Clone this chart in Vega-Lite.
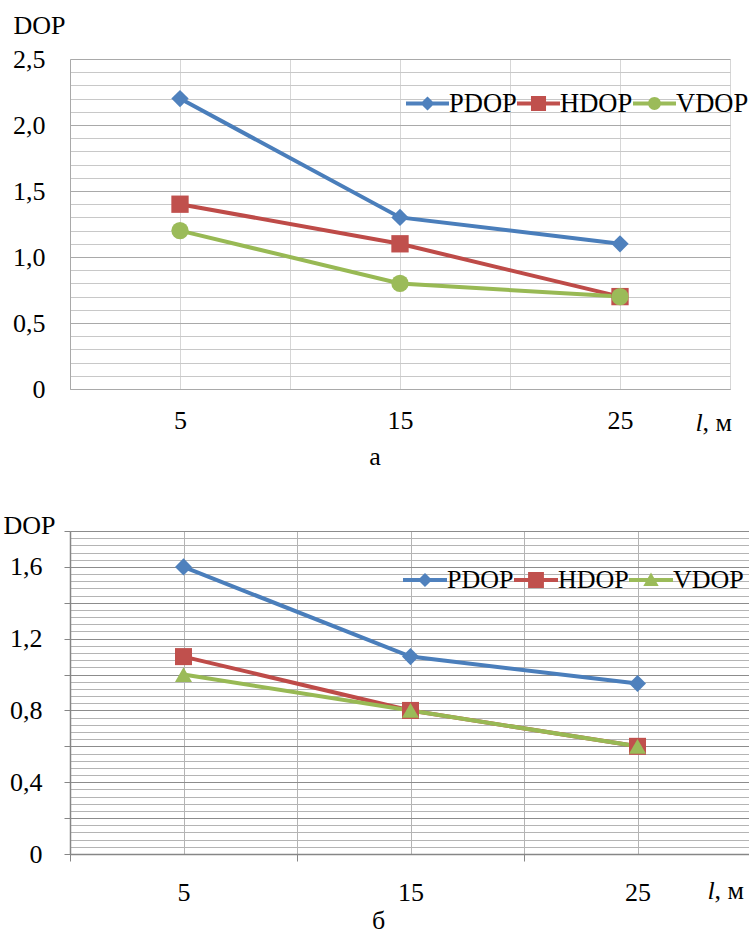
{
  "$schema": "https://vega.github.io/schema/vega-lite/v6.json",
  "padding": {"left": 3, "top": 12, "right": 0, "bottom": 0},
  "autosize": {"type": "pad"},
  "background": "white",
  "spacing": 142,
  "bounds": "flush",
  "config": {
    "view": {"stroke": null},
    "font": "'Liberation Serif', 'Times New Roman', 'DejaVu Serif', serif",
    "axis": {"labelFont": "'Liberation Serif', 'Times New Roman', 'DejaVu Serif', serif", "labelFontSize": 26, "labelColor": "black", "titleFont": "'Liberation Serif', 'Times New Roman', 'DejaVu Serif', serif", "titleFontSize": 26, "titleFontWeight": "normal", "titleColor": "black", "labelOverlap": false, "labelFlush": false},
    "legend": {"labelFont": "'Liberation Serif', 'Times New Roman', 'DejaVu Serif', serif", "labelFontSize": 26, "labelColor": "black"},
    "title": {"font": "'Liberation Serif', 'Times New Roman', 'DejaVu Serif', serif", "fontSize": 26, "fontWeight": "normal", "color": "black"}
  },
  "datasets": {
    "a": [
      {"l": 5, "series": "PDOP", "dop": 2.2},
      {"l": 15, "series": "PDOP", "dop": 1.3},
      {"l": 25, "series": "PDOP", "dop": 1.1},
      {"l": 5, "series": "HDOP", "dop": 1.4},
      {"l": 15, "series": "HDOP", "dop": 1.1},
      {"l": 25, "series": "HDOP", "dop": 0.7},
      {"l": 5, "series": "VDOP", "dop": 1.2},
      {"l": 15, "series": "VDOP", "dop": 0.8},
      {"l": 25, "series": "VDOP", "dop": 0.7}
    ],
    "b": [
      {"l": 5, "series": "PDOP", "dop": 1.6},
      {"l": 15, "series": "PDOP", "dop": 1.1},
      {"l": 25, "series": "PDOP", "dop": 0.95},
      {"l": 5, "series": "HDOP", "dop": 1.1},
      {"l": 15, "series": "HDOP", "dop": 0.8},
      {"l": 25, "series": "HDOP", "dop": 0.6},
      {"l": 5, "series": "VDOP", "dop": 1.0},
      {"l": 15, "series": "VDOP", "dop": 0.8},
      {"l": 25, "series": "VDOP", "dop": 0.6}
    ]
  },
  "vconcat": [
    {
      "width": 660,
      "height": 330,
      "data": {"name": "a"},
      "title": {"text": "а", "orient": "bottom", "anchor": "middle", "frame": "group", "dx": -25, "offset": 9},
      "encoding": {
        "y": {
          "field": "dop", "type": "quantitative",
          "scale": {"domain": [0, 2.5], "nice": false},
          "axis": {
            "values": [0,0.1,0.2,0.3,0.4,0.5,0.6,0.7,0.8,0.9,1,1.1,1.2,1.3,1.4,1.5,1.6,1.7,1.8,1.9,2,2.1,2.2,2.3,2.4,2.5],
            "labelExpr": "abs(datum.value*2 - round(datum.value*2)) < 0.001 ? (datum.value == 0 ? '0' : replace(format(datum.value, '.1f'), '.', ',')) : ''",
            "ticks": false,
            "labelPadding": 25,
            "grid": true,
            "gridColor": {"condition": {"test": "abs(datum.value*2 - round(datum.value*2)) < 0.001", "value": "#a9a9a9"}, "value": "#c8c8c8"},
            "domainColor": "#a9a9a9",
            "title": "DOP",
            "titleAngle": 0,
            "titleAlign": "left",
            "titleBaseline": "alphabetic",
            "titleX": -57,
            "titleY": -26
          }
        }
      },
      "layer": [
        {
          "mark": {"type": "line", "strokeWidth": 4},
          "encoding": {
            "x": {
              "field": "l", "type": "quantitative",
              "scale": {"domain": [0, 30], "nice": false},
              "axis": {
                "values": [0,5,10,15,20,25,30],
                "labelExpr": "datum.value % 10 == 5 ? format(datum.value, 'd') : ''",
                "ticks": false,
                "labelPadding": 18,
                "grid": true,
                "gridColor": "#d6d6d6",
                "domainColor": "#a9a9a9",
                "title": "l",
                "titleFontStyle": "italic",
                "titleAlign": "left",
                "titleBaseline": "alphabetic",
                "titleX": 625,
                "titleY": 41
              }
            },
            "color": {"field": "series", "type": "nominal", "scale": {"domain": ["PDOP","HDOP","VDOP"], "range": ["#4a7ebb","#be4b48","#98b954"]}, "legend": null}
          }
        },
        {
          "mark": {"type": "point", "filled": true, "opacity": 1, "size": 300},
          "encoding": {
            "x": {
              "field": "l", "type": "quantitative",
              "axis": {"orient": "bottom", "labels": false, "ticks": false, "domain": false, "grid": false, "title": ", м", "titleAlign": "left", "titleBaseline": "alphabetic", "titleX": 632, "titleY": 41}
            },
            "color": {"field": "series", "type": "nominal", "scale": {"domain": ["PDOP","HDOP","VDOP"], "range": ["#4f81bd","#c0504d","#9bbb59"]}, "legend": null},
            "shape": {"field": "series", "type": "nominal", "scale": {"domain": ["PDOP","HDOP","VDOP"], "range": ["diamond","square","circle"]}, "legend": null}
          }
        },
        {
          "transform": [{"filter": "datum.dop < 0"}],
          "mark": {"type": "point", "filled": true, "opacity": 1, "size": 1849},
          "encoding": {
            "color": {"field": "series", "type": "nominal", "scale": {"domain": ["PDOP","HDOP","VDOP"], "range": ["#4f81bd","#c0504d","#9bbb59"]},
              "legend": {"title": null, "orient": "none", "legendX": 336, "legendY": 23, "direction": "horizontal", "columns": 3, "symbolSize": 1849, "labelOffset": 0, "columnPadding": 0, "padding": 0, "symbolStrokeWidth": 0, "symbolOpacity": 1, "labelFontSize": 26.5}},
            "shape": {"field": "series", "type": "nominal", "scale": {"domain": ["PDOP","HDOP","VDOP"], "range": [
              "M-1,-0.093L1,-0.093L1,0.093L-1,0.093Z M0,-0.33L0.33,0L0,0.33L-0.33,0Z",
              "M-1,-0.093L1,-0.093L1,0.093L-1,0.093Z M-0.35,-0.35L0.35,-0.35L0.35,0.35L-0.35,0.35Z",
              "M-1,-0.093L1,-0.093L1,0.093L-1,0.093Z M0.3,0A0.3,0.3 0 1 1 -0.3,0A0.3,0.3 0 1 1 0.3,0Z"
            ]},
              "legend": {"title": null, "orient": "none", "legendX": 336, "legendY": 23, "direction": "horizontal", "columns": 3, "symbolSize": 1849, "labelOffset": 0, "columnPadding": 0, "padding": 0, "symbolStrokeWidth": 0, "symbolOpacity": 1, "labelFontSize": 26.5}}
          }
        }
      ],
      "resolve": {"scale": {"color": "independent", "shape": "independent"}, "axis": {"x": "independent"}}
    },
    {
      "width": 681,
      "height": 323,
      "data": {"name": "b"},
      "title": {"text": "б", "orient": "bottom", "anchor": "middle", "frame": "group", "dx": -32, "offset": 3},
      "encoding": {
        "y": {
          "field": "dop", "type": "quantitative",
          "scale": {"domain": [0, 1.8], "nice": false},
          "axis": {
            "values": [0,0.04,0.08,0.12,0.16,0.2,0.24,0.28,0.32,0.36,0.4,0.44,0.48,0.52,0.56,0.6,0.64,0.68,0.72,0.76,0.8,0.84,0.88,0.92,0.96,1,1.04,1.08,1.12,1.16,1.2,1.24,1.28,1.32,1.36,1.4,1.44,1.48,1.52,1.56,1.6,1.64,1.68,1.72,1.76,1.8],
            "labelExpr": "abs(datum.value*2.5 - round(datum.value*2.5)) < 0.001 ? (datum.value == 0 ? '0' : replace(format(datum.value, '.1f'), '.', ',')) : ''",
            "ticks": true,
            "tickSize": 6,
            "tickColor": {"condition": {"test": "abs(datum.value*5 - round(datum.value*5)) < 0.001", "value": "#868686"}, "value": "transparent"},
            "labelPadding": 22,
            "grid": true,
            "gridColor": {"condition": {"test": "abs(datum.value*5 - round(datum.value*5)) < 0.001", "value": "#8c8c8c"}, "value": "#b4b4b4"},
            "domainColor": "#868686",
            "domainWidth": 1.5,
            "title": "DOP",
            "titleAngle": 0,
            "titleAlign": "left",
            "titleBaseline": "alphabetic",
            "titleX": -67,
            "titleY": 2
          }
        }
      },
      "layer": [
        {
          "mark": {"type": "line", "strokeWidth": 4},
          "encoding": {
            "x": {
              "field": "l", "type": "quantitative",
              "scale": {"domain": [0, 30], "nice": false},
              "axis": {
                "values": [0,5,10,15,20,25,30],
                "labelExpr": "datum.value % 10 == 5 ? format(datum.value, 'd') : ''",
                "ticks": true,
                "tickSize": 7,
                "tickColor": {"condition": {"test": "datum.value % 10 == 0", "value": "#868686"}, "value": "transparent"},
                "labelPadding": 18,
                "grid": true,
                "gridColor": "#b4b4b4",
                "domainColor": "#868686",
                "domainWidth": 1.5,
                "title": "l",
                "titleFontStyle": "italic",
                "titleAlign": "left",
                "titleBaseline": "alphabetic",
                "titleX": 637,
                "titleY": 44
              }
            },
            "color": {"field": "series", "type": "nominal", "scale": {"domain": ["PDOP","HDOP","VDOP"], "range": ["#4a7ebb","#be4b48","#98b954"]}, "legend": null}
          }
        },
        {
          "mark": {"type": "point", "filled": true, "opacity": 1, "size": 290},
          "encoding": {
            "x": {
              "field": "l", "type": "quantitative",
              "axis": {"orient": "bottom", "labels": false, "ticks": false, "domain": false, "grid": false, "title": ", м", "titleAlign": "left", "titleBaseline": "alphabetic", "titleX": 644, "titleY": 44}
            },
            "color": {"field": "series", "type": "nominal", "scale": {"domain": ["PDOP","HDOP","VDOP"], "range": ["#4f81bd","#c0504d","#9bbb59"]}, "legend": null},
            "shape": {"field": "series", "type": "nominal", "scale": {"domain": ["PDOP","HDOP","VDOP"], "range": ["diamond","square","triangle-up"]}, "legend": null}
          }
        },
        {
          "transform": [{"filter": "datum.dop < 0"}],
          "mark": {"type": "point", "filled": true, "opacity": 1, "size": 1936},
          "encoding": {
            "color": {"field": "series", "type": "nominal", "scale": {"domain": ["PDOP","HDOP","VDOP"], "range": ["#4f81bd","#c0504d","#9bbb59"]},
              "legend": {"title": null, "orient": "none", "legendX": 333, "legendY": 27, "direction": "horizontal", "columns": 3, "symbolSize": 1936, "labelOffset": 0, "columnPadding": 0, "padding": 0, "symbolStrokeWidth": 0, "symbolOpacity": 1}},
            "shape": {"field": "series", "type": "nominal", "scale": {"domain": ["PDOP","HDOP","VDOP"], "range": [
              "M-1,-0.09L1,-0.09L1,0.09L-1,0.09Z M0,-0.32L0.32,0L0,0.32L-0.32,0Z",
              "M-1,-0.09L1,-0.09L1,0.09L-1,0.09Z M-0.36,-0.36L0.36,-0.36L0.36,0.36L-0.36,0.36Z",
              "M-1,-0.09L1,-0.09L1,0.09L-1,0.09Z M0,-0.34L0.35,0.27L-0.35,0.27Z"
            ]},
              "legend": {"title": null, "orient": "none", "legendX": 333, "legendY": 27, "direction": "horizontal", "columns": 3, "symbolSize": 1936, "labelOffset": 0, "columnPadding": 0, "padding": 0, "symbolStrokeWidth": 0, "symbolOpacity": 1}}
          }
        }
      ],
      "resolve": {"scale": {"color": "independent", "shape": "independent"}, "axis": {"x": "independent"}}
    }
  ]
}
